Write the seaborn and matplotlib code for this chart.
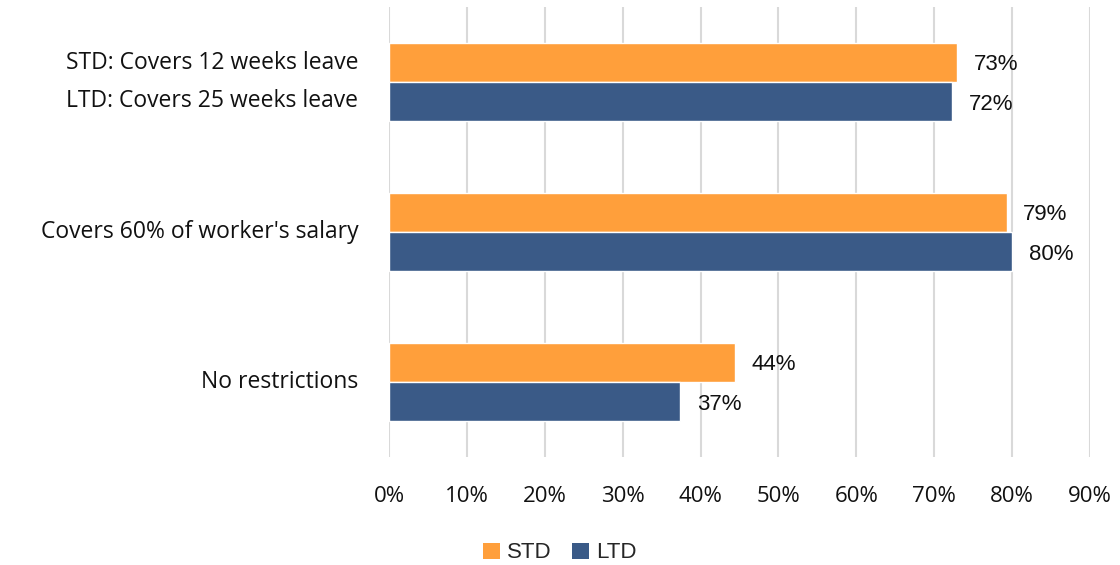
import matplotlib
matplotlib.use("Agg")
import matplotlib.pyplot as plt
import seaborn as sns
import pandas as pd
from matplotlib.patches import Patch

categories = ["STD: Covers 12 weeks leave\nLTD: Covers 25 weeks leave",
              "Covers 60% of worker's salary",
              "No restrictions"]
std_values = [72.9, 79.3, 44.4]
ltd_values = [72.3, 80.0, 37.4]
series = ["STD", "LTD"]
xticks = [0, 10, 20, 30, 40, 50, 60, 70, 80, 90]
colors = {"STD": "#FF9F3B", "LTD": "#3A5A87"}

df = pd.DataFrame({
    "category": categories * 2,
    "value": std_values + ltd_values,
    "series": ["STD"] * 3 + ["LTD"] * 3,
})

sns.set_style("white")
plt.rcParams['font.family'] = ['Open Sans', 'DejaVu Sans']

fig = plt.figure(figsize=(11.2, 5.65), dpi=100)
ax = fig.add_axes([389/1120, 1 - 457/565, (1090 - 389)/1120, 450/565])

sns.barplot(data=df, y="category", x="value", hue="series", orient="h",
            palette=colors, width=0.52, ax=ax, legend=False, saturation=1)

for cont in ax.containers:
    texts = ax.bar_label(cont, labels=[f"{v:.0f}%" for v in cont.datavalues],
                         padding=12, fontsize=16, family="Liberation Sans", color="#111111")
    for t in texts:
        t.set_va("center_baseline")

ax.set_xlim(0, 90)
ax.set_xticks(xticks)
ax.set_xticklabels([f"{t}%" for t in xticks], fontsize=16, color="#111111")
ax.tick_params(axis="x", length=0, pad=21)
ax.tick_params(axis="y", length=0, pad=22, labelsize=16.5, labelcolor="#111111")
for lbl in ax.get_yticklabels():
    lbl.set_linespacing(1.8)
    lbl.set_va("center")
ax.set_xlabel("")
ax.set_ylabel("")
ax.grid(axis="x", color="#D9D9D9", linewidth=1.5)
ax.set_axisbelow(True)
for s in ax.spines.values():
    s.set_visible(False)

handles = [Patch(facecolor=colors[s], edgecolor="none", label=s) for s in series]
fig.legend(handles=handles, loc="center", bbox_to_anchor=(0.5, 1 - 553/565),
           ncol=2, frameon=False, prop={"family": "Liberation Sans", "size": 16},
           handlelength=0.75, handleheight=0.75, handletextpad=0.35, columnspacing=0.9)

fig.savefig("out.png", dpi=100)
